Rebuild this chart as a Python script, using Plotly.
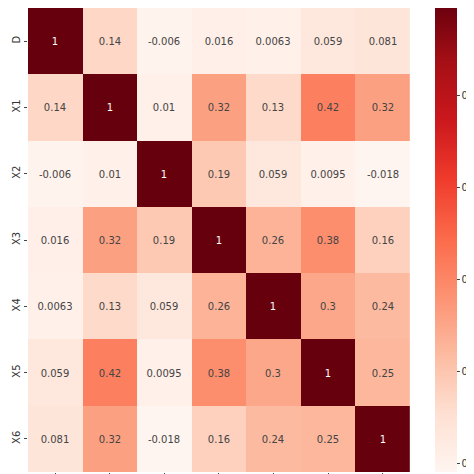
import plotly.graph_objects as go

labels = ["D", "X1", "X2", "X3", "X4", "X5", "X6"]
corr = [
    [1, 0.14, -0.006, 0.016, 0.0063, 0.059, 0.081],
    [0.14, 1, 0.01, 0.32, 0.13, 0.42, 0.32],
    [-0.006, 0.01, 1, 0.19, 0.059, 0.0095, -0.018],
    [0.016, 0.32, 0.19, 1, 0.26, 0.38, 0.16],
    [0.0063, 0.13, 0.059, 0.26, 1, 0.3, 0.24],
    [0.059, 0.42, 0.0095, 0.38, 0.3, 1, 0.25],
    [0.081, 0.32, -0.018, 0.16, 0.24, 0.25, 1],
]
text = [[f"{v:g}" for v in row] for row in corr]

reds = [[0.0, "#fff5f0"], [0.125, "#fee0d2"], [0.25, "#fcbba1"], [0.375, "#fc9272"],
        [0.5, "#fb6a4a"], [0.625, "#ef3b2c"], [0.75, "#cb181d"], [0.875, "#a50f15"], [1.0, "#67000d"]]

fig = go.Figure(go.Heatmap(
    z=corr, x=labels, y=labels, text=text, texttemplate="%{text}",
    textfont=dict(size=10, family="DejaVu Sans"),
    colorscale=reds, zmin=-0.018, zmax=1, xgap=0, ygap=0,
    colorbar=dict(x=0.896, xanchor="left", y=0, yanchor="bottom", ypad=0, xpad=0,
                  len=469, lenmode="pixels", thickness=22, outlinewidth=0,
                  tickvals=[0, 0.2, 0.4, 0.6, 0.8, 1.0], ticktext=["0.0", "0.2", "0.4", "0.6", "0.8", "1.0"],
                  ticks="outside", ticklen=3, tickfont=dict(size=10, color="#333"))
))
fig.update_layout(
    width=474, height=474, margin=dict(l=20, r=0, t=0, b=10),
    paper_bgcolor="white", plot_bgcolor="white",
    font=dict(family="DejaVu Sans", color="#333"),
)
fig.update_xaxes(domain=[0, 0.841], tickangle=-90, tickfont=dict(size=9), ticks="outside", ticklen=2,
                 automargin=False, showgrid=False)
fig.update_yaxes(autorange="reversed", tickangle=-90, tickfont=dict(size=10), ticks="outside", ticklen=3,
                 automargin=False, showgrid=False)
fig.write_html("out.html")
